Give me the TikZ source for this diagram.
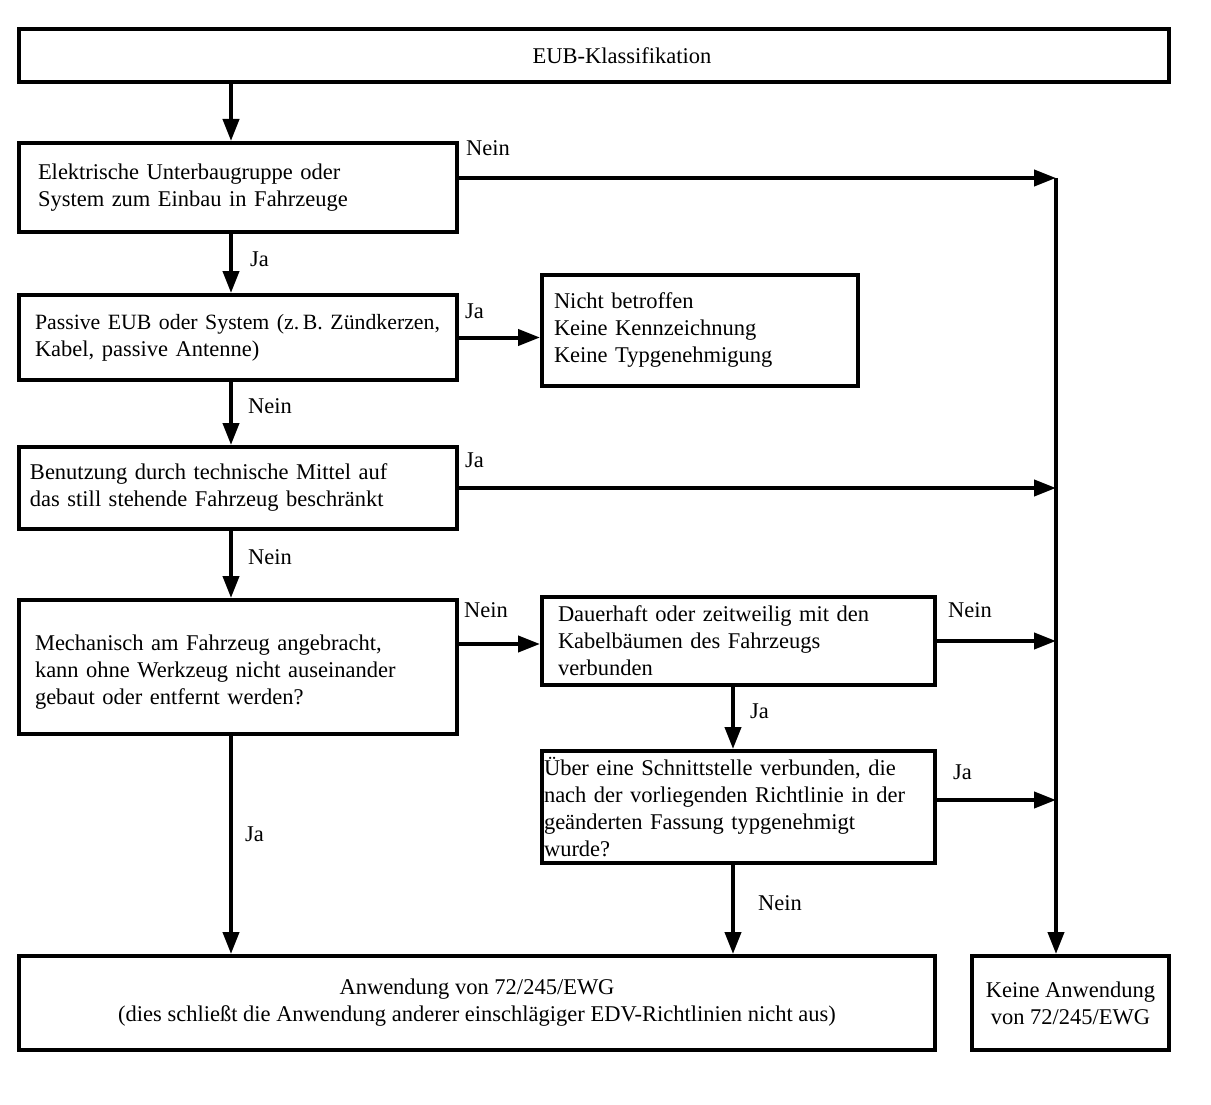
\documentclass[tikz,border=0pt]{standalone}
\usepackage{fontspec}
\setmainfont{Liberation Serif}
\usetikzlibrary{arrows.meta}
\tikzset{
  box/.style={draw, line width=4pt, inner ysep=0pt, anchor=north west, align=left,
    font=\fontsize{22.5}{27}\selectfont},
  lbl/.style={anchor=west, inner sep=0pt, font=\fontsize{22.5}{27}\selectfont},
  arr/.style={line width=4pt, -{Triangle[length=22pt,width=16pt]}},
  ln/.style={line width=4pt}
}
\begin{document}
\begin{tikzpicture}[x=1pt,y=-1pt]
\useasboundingbox[fill=white] (0,0) rectangle (1211,1105);
% columns
\coordinate (colL) at (231,0);
\coordinate (colM) at (733,0);
\coordinate (colR) at (1056,0);
% boxes
\node[box, minimum width=1150, minimum height=53, align=center, inner xsep=0pt] (top) at (17,27) {\hspace*{56pt}EUB-Klassifikation};
\node[box, minimum width=438, minimum height=89, inner xsep=19pt, text width=400] (A) at (17,141)
  {Elektrische Unterbaugruppe oder\\System zum Einbau in Fahrzeuge};
\node[box, minimum width=438, minimum height=85, inner xsep=16pt, text width=406] (B) at (17,293)
  {\mbox{\fontsize{21.8}{27}\selectfont Passive EUB oder System (z.\,B. Zündkerzen,}\\Kabel, passive Antenne)};
\node[box, minimum width=316, minimum height=111, inner xsep=12pt, text width=292] (C) at (540,273)
  {Nicht betroffen\\Keine Kennzeichnung\\Keine Typgenehmigung};
\node[box, minimum width=438, minimum height=82, inner xsep=11pt, text width=416] (D) at (17,445)
  {Benutzung durch technische Mittel auf\\das still stehende Fahrzeug beschränkt};
\node[box, minimum width=438, minimum height=134, inner xsep=16pt, text width=406] (E) at (17,598)
  {\\[-2pt]Mechanisch am Fahrzeug angebracht,\\kann ohne Werkzeug nicht auseinander\\gebaut oder entfernt werden?};
\node[box, minimum width=393, minimum height=88, inner xsep=16pt, text width=361] (F) at (540,595)
  {Dauerhaft oder zeitweilig mit den\\Kabelbäumen des Fahrzeugs\\verbunden};
\node[box, minimum width=393, minimum height=112, inner xsep=2pt, text width=389] (G) at (540,749)
  {Über eine Schnittstelle verbunden, die\\nach der vorliegenden Richtlinie in der\\geänderten Fassung typgenehmigt\\wurde?};
\node[box, minimum width=916, minimum height=94, align=center, inner xsep=0pt] (H) at (17,954)
  {Anwendung von 72/245/EWG\\(dies schließt die Anwendung anderer einschlägiger EDV-Richtlinien nicht aus)};
\node[box, minimum width=197, minimum height=94, align=center, inner xsep=0pt] (I) at (970,954)
  {Keine Anwendung\\von 72/245/EWG};
% junction coordinates on right bus
\coordinate (jA) at (1056,178);
\coordinate (rowEF) at (0,644);
\coordinate (rowG) at (0,800);
% connectors
\draw[arr] (top.south -| colL) -- (A.north -| colL);
\draw[arr] (A.east |- jA) -- (jA);
\draw[arr] (jA) -- (I.north -| colR);
\draw[arr] (A.south -| colL) -- (B.north -| colL);
\draw[arr] (B.east) -- (C.west |- B.east);
\draw[arr] (B.south -| colL) -- (D.north -| colL);
\draw[arr] (D.east) -- (D.east -| colR);
\draw[arr] (D.south -| colL) -- (E.north -| colL);
\draw[arr] (E.east |- rowEF) -- (F.west |- rowEF);
\draw[arr] (F.east) -- (F.east -| colR);
\draw[arr] (F.south -| colM) -- (G.north -| colM);
\draw[arr] (G.east |- rowG) -- (colR |- rowG);
\draw[arr] (G.south -| colM) -- (H.north -| colM);
\draw[arr] (E.south -| colL) -- (H.north -| colL);
% labels
\node[lbl] (n1) at (466,148) {Nein};
\node[lbl] (j1) at (250,259) {Ja};
\node[lbl] (j2) at (465,311) {Ja};
\node[lbl] (n2) at (248,406) {Nein};
\node[lbl] (j3) at (465,460) {Ja};
\node[lbl] (n3) at (248,557) {Nein};
\node[lbl] (n4) at (464,610) {Nein};
\node[lbl] (n5) at (948,610) {Nein};
\node[lbl] (j4) at (750,711) {Ja};
\node[lbl] (j5) at (953,772) {Ja};
\node[lbl] (n6) at (758,903) {Nein};
\node[lbl] (j6) at (245,834) {Ja};
\end{tikzpicture}
\end{document}
